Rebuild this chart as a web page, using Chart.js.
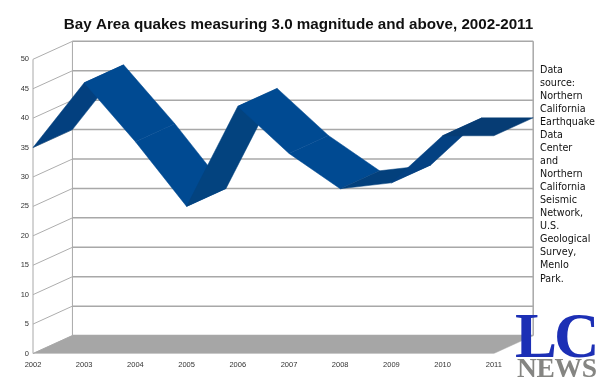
<!DOCTYPE html>
<html>
<head>
<meta charset="utf-8">
<title>Bay Area quakes</title>
<script src="https://cdn.jsdelivr.net/npm/chart.js@4"></script>
<style>
    html, body { margin: 0; padding: 0; background: #fff; }
    #wrap { position: relative; width: 597px; height: 387px; overflow: hidden; }
    #chart { position: absolute; left: 0; top: 0; }
    #source {
        position: absolute; left: 540px; top: 63px; width: 57px;
        font: 9.6px/13.03px "DejaVu Sans", sans-serif; color: #111; white-space: nowrap;
    }
    #logo-lc {
        position: absolute; left: 515px; top: 303px;
        font: bold 63px/66px "Liberation Serif", serif; color: #1c2fb5; letter-spacing: -3px;
    }
    #logo-news {
        position: absolute; left: 517px; top: 354px;
        font: bold 27.5px/28px "Liberation Serif", serif; color: #858582; letter-spacing: -0.3px;
    }
</style>
</head>
<body>
<div id="wrap">
    <canvas id="chart" width="597" height="387"></canvas>
    <div id="source">Data<br>source:<br>Northern<br>California<br>Earthquake<br>Data<br>Center<br>and<br>Northern<br>California<br>Seismic<br>Network,<br>U.S.<br>Geological<br>Survey,<br>Menlo<br>Park.</div>
    <div id="logo-lc">LC</div>
    <div id="logo-news">NEWS</div>
</div>
<script>
const years = [2002, 2003, 2004, 2005, 2006, 2007, 2008, 2009, 2010, 2011];
const quakes = [35, 46, 36, 25, 42, 34, 28, 29, 37, 37];
const yTicks = [0, 5, 10, 15, 20, 25, 30, 35, 40, 45, 50];

// Depth of the fake 3D box, in axis units
const depthX = 0.77;
const depthY = 3.05;

const ribbonColors = ["#03407f", "#004a92", "#004a92", "#03437f", "#004a92", "#004a92", "#03407c", "#044182", "#063c74"];
const gridColor = "#a8a8a8";

function lineSet(points, color, width) {
    return {
        data: points,
        showLine: true,
        borderColor: color,
        borderWidth: width,
        pointRadius: 0,
        fill: false,
        clip: false
    };
}

function polygonSet(points, color) {
    return {
        data: points,
        showLine: true,
        borderColor: color,
        borderWidth: 0.5,
        backgroundColor: color,
        pointRadius: 0,
        fill: "shape",
        clip: false
    };
}

const first = years[0];
const last = years[years.length - 1];
const datasets = [];

// Ribbon goes first so it sits on top of the walls
for (let i = years.length - 2; i >= 0; i--) {
    datasets.push(polygonSet([
        {x: years[i], y: quakes[i]},
        {x: years[i + 1], y: quakes[i + 1]},
        {x: years[i + 1] + depthX, y: quakes[i + 1] + depthY},
        {x: years[i] + depthX, y: quakes[i] + depthY},
        {x: years[i], y: quakes[i]}
    ], ribbonColors[i]));
}

// Floor
datasets.push(polygonSet([
    {x: first, y: 0},
    {x: last, y: 0},
    {x: last + depthX, y: depthY},
    {x: first + depthX, y: depthY},
    {x: first, y: 0}
], "#a6a6a6"));

// Back wall and side wall
yTicks.forEach(v => {
    datasets.push(lineSet([{x: first + depthX, y: v + depthY}, {x: last + depthX, y: v + depthY}], gridColor, 1.5));
    datasets.push(lineSet([{x: first, y: v}, {x: first + depthX, y: v + depthY}], "#adadad", 1));
});
datasets.push(lineSet([{x: first, y: 0}, {x: first, y: 50}], gridColor, 1));
datasets.push(lineSet([{x: first + depthX, y: depthY}, {x: first + depthX, y: 50 + depthY}], gridColor, 1));
datasets.push(lineSet([{x: last + depthX, y: depthY}, {x: last + depthX, y: 50 + depthY}], gridColor, 1.5));

new Chart(document.getElementById("chart"), {
    type: "scatter",
    data: {datasets: datasets},
    options: {
        responsive: false,
        animation: false,
        plugins: {
            legend: {display: false},
            tooltip: {enabled: false},
            title: {
                display: true,
                text: "Bay Area quakes measuring 3.0 magnitude and above, 2002-2011",
                color: "#111",
                font: {family: "Liberation Sans", size: 15.2, weight: "bold", lineHeight: 1.2},
                padding: {top: 16, bottom: 6.8},
                align: "center"
            }
        },
        scales: {
            x: {
                type: "linear",
                min: first,
                max: first + 11.016,  // axis runs on under the side note so the title centres on the page
                grid: {display: false, drawTicks: false},
                border: {display: false},
                afterBuildTicks: s => { s.ticks = years.map(v => ({value: v})); },
                afterFit: s => { s.height = 33.5; },
                ticks: {
                    autoSkip: false,
                    maxRotation: 0,
                    padding: 7,
                    color: "#333",
                    font: {family: "Liberation Sans", size: 7.5},
                    callback: v => String(v)
                }
            },
            y: {
                type: "linear",
                min: 0,
                max: 53.1,
                grid: {display: false, drawTicks: false},
                border: {display: false},
                afterBuildTicks: s => { s.ticks = yTicks.map(v => ({value: v})); },
                afterFit: s => { s.width = 33; },
                ticks: {
                    padding: 4,
                    color: "#333",
                    font: {family: "Liberation Sans", size: 7.5},
                    callback: v => String(v)
                }
            }
        }
    }
});
</script>
</body>
</html>
